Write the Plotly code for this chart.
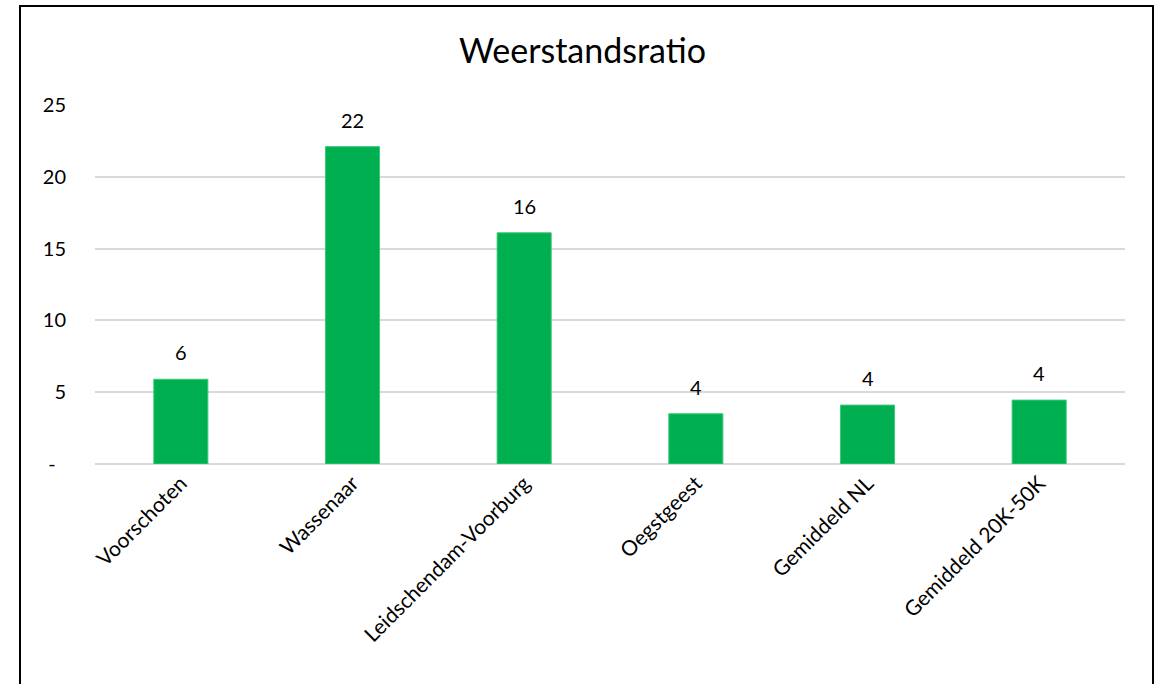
import plotly.graph_objects as go

categories = ["Voorschoten", "Wassenaar", "Leidschendam-Voorburg", "Oegstgeest", "Gemiddeld NL", "Gemiddeld 20K-50K"]
values = [5.9, 22.1, 16.1, 3.5, 4.1, 4.45]
tick_vals = [0, 5, 10, 15, 20, 25]
tick_text = ["-\u00a0\u00a0", "5", "10", "15", "20", "25"]

W, H = 1165, 684
ml, mr, mt, mb = 95, 40, 105, 220
pw = W - ml - mr
ph = H - mt - mb

font = "Lato, 'Open Sans', sans-serif"

fig = go.Figure()
fig.add_trace(go.Bar(
    x=categories, y=values,
    marker=dict(color="#00B050", line=dict(color="#3CC878", width=1)),
    width=0.315,
    hoverinfo="x+y",
))

annotations = [
    dict(x=c, y=v, text=f"{round(v)}", showarrow=False, yanchor="bottom",
         yshift=13, font=dict(size=20, color="#000000", family=font))
    for c, v in zip(categories, values)
]

def px_x(p):
    return (p - ml) / pw

def px_y(p):
    return (H - mb - p) / ph

fig.update_layout(
    width=W, height=H,
    margin=dict(l=ml, r=mr, t=mt, b=mb),
    paper_bgcolor="white", plot_bgcolor="white",
    title=dict(text="Weerstandsratio", x=0.5, xanchor="center", y=1 - 51 / H, yanchor="middle",
               font=dict(size=34, color="#000000", family=font)),
    showlegend=False,
    annotations=annotations,
    font=dict(family=font, color="#000000"),
    shapes=[dict(type="rect", xref="paper", yref="paper",
                 x0=px_x(20), x1=px_x(1153), y0=px_y(700), y1=px_y(6),
                 line=dict(color="#000000", width=2), fillcolor="rgba(0,0,0,0)", layer="above")],
)
fig.update_xaxes(
    tickangle=-45, tickfont=dict(size=21, family=font, color="#000000"),
    showgrid=False, showline=False, ticks="", ticklabelstandoff=2,
)
fig.update_yaxes(
    range=[0, 25], tickvals=tick_vals, ticktext=tick_text,
    tickfont=dict(size=20, family=font, color="#000000"),
    showgrid=True, gridcolor="#D9D9D9", gridwidth=1.5,
    zeroline=True, zerolinecolor="#D9D9D9", zerolinewidth=1.5,
    showline=False, ticks="", ticklabelstandoff=28,
)

fig.write_html("out.html", config={"displayModeBar": False},
               post_script="document.body.style.margin='0';")
